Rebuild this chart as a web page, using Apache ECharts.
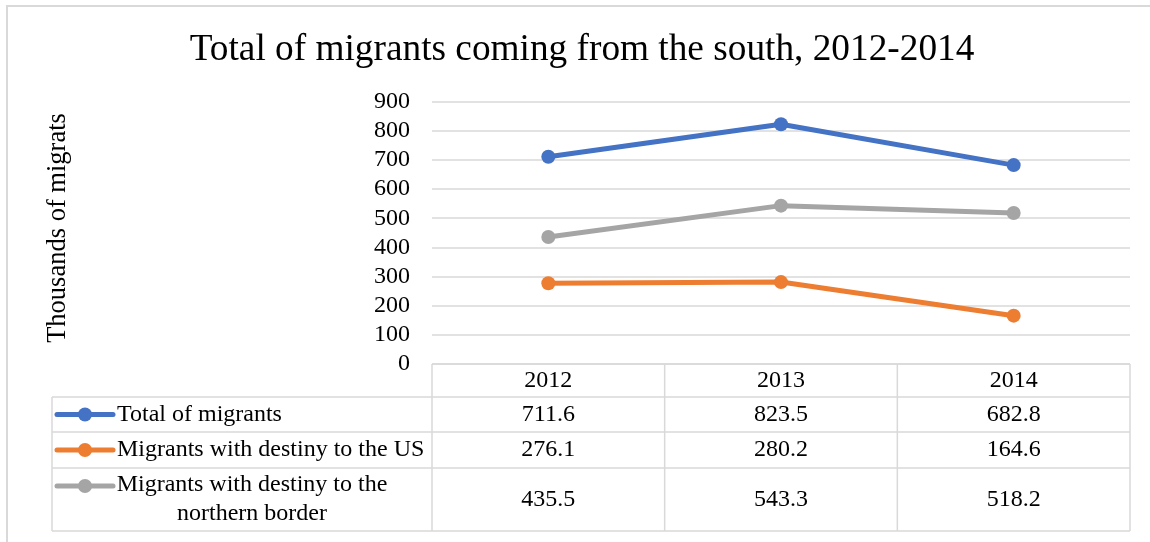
<!DOCTYPE html>
<html>
<head>
<meta charset="utf-8">
<script src="https://cdn.jsdelivr.net/npm/echarts@6/dist/echarts.min.js"></script>
<style>
  html, body { margin: 0; padding: 0; background: #fff; }
  #chart { width: 1150px; height: 542px; }
</style>
</head>
<body>
<div id="chart"></div>
<script>
// Data
const years = ['2012', '2013', '2014'];
const totalMigrants = [711.6, 823.5, 682.8];
const migrantsToUS = [276.1, 280.2, 164.6];
const migrantsToNorthernBorder = [435.5, 543.3, 518.2];
const seriesNames = [
  'Total of migrants',
  'Migrants with destiny to the US',
  'Migrants with destiny to the\nnorthern border'
];
const titleText = 'Total of migrants coming from the south, 2012-2014';
const yAxisTitle = 'Thousands of migrats';
const yMin = 0, yMax = 900, yStep = 100;

const seriesValues = [totalMigrants, migrantsToUS, migrantsToNorthernBorder];
const colors = ['#4472C4', '#ED7D31', '#A5A5A5'];
const FONT = '"Liberation Serif", "Times New Roman", serif';
const GRID_COLOR = '#D9D9D9';

const chart = echarts.init(document.getElementById('chart'), null, { renderer: 'canvas' });

const gridLeft = 432, gridRight = 1130, gridTop = 102, gridBottom = 363.5;

chart.setOption({
  animation: false,
  backgroundColor: '#fff',
  grid: { left: gridLeft, right: 1150 - gridRight, top: gridTop, bottom: 542 - gridBottom, containLabel: false },
  xAxis: {
    type: 'category',
    data: years,
    boundaryGap: true,
    axisLine: { show: false },
    axisTick: { show: false },
    axisLabel: { show: false },
    splitLine: { show: false }
  },
  yAxis: {
    type: 'value',
    min: yMin, max: yMax, interval: yStep,
    axisLine: { show: false },
    axisTick: { show: false },
    axisLabel: { color: '#000', fontFamily: FONT, fontSize: 24, margin: 22 },
    splitLine: { lineStyle: { color: GRID_COLOR, width: 1.5 } }
  },
  series: seriesValues.map((vals, i) => ({
    name: seriesNames[i],
    type: 'line',
    data: vals,
    symbol: 'circle',
    symbolSize: 14,
    lineStyle: { color: colors[i], width: 5 },
    itemStyle: { color: colors[i] },
    z: 3 - i
  }))
});

// Data table below the plot, aligned to the category axis
const tableLeft = 52;
const rowEdges = [364, 397, 432, 468, 531];
const lineStyle = { stroke: GRID_COLOR, lineWidth: 1.5 };
const textStyle = (extra) => Object.assign({ fill: '#000', font: '24px ' + FONT }, extra);

const centers = years.map(y => chart.convertToPixel({ xAxisIndex: 0 }, y));
const colW = (gridRight - gridLeft) / years.length;
const g = [];

// outer chart border
g.push({ type: 'rect', shape: { x: 7, y: 6, width: 1300, height: 700 },
  style: { fill: null, stroke: GRID_COLOR, lineWidth: 2 }, silent: true });

// title
g.push({ type: 'text', x: 582, y: 50, style: textStyle({ text: titleText, font: '37.3px ' + FONT,
  align: 'center', verticalAlign: 'middle' }) });

// y-axis title
g.push({ type: 'text', x: 58, y: 228, rotation: Math.PI / 2,
  style: textStyle({ text: yAxisTitle, font: '26.5px ' + FONT, align: 'center', verticalAlign: 'middle' }) });

// horizontal rules
g.push({ type: 'line', shape: { x1: gridLeft, y1: rowEdges[0], x2: gridRight, y2: rowEdges[0] }, style: lineStyle });
for (let r = 1; r < rowEdges.length; r++) {
  g.push({ type: 'line', shape: { x1: tableLeft, y1: rowEdges[r], x2: gridRight, y2: rowEdges[r] }, style: lineStyle });
}
// vertical rules
g.push({ type: 'line', shape: { x1: tableLeft, y1: rowEdges[1], x2: tableLeft, y2: rowEdges[4] }, style: lineStyle });
for (let c = 0; c <= years.length; c++) {
  const x = gridLeft + c * colW;
  g.push({ type: 'line', shape: { x1: x, y1: rowEdges[0], x2: x, y2: rowEdges[4] }, style: lineStyle });
}

// header row: categories
years.forEach((y, c) => {
  g.push({ type: 'text', x: centers[c], y: (rowEdges[0] + rowEdges[1]) / 2,
    style: textStyle({ text: y, align: 'center', verticalAlign: 'middle' }) });
});

// series rows: legend key, name, values
seriesValues.forEach((vals, i) => {
  const top = rowEdges[i + 1], bottom = rowEdges[i + 2];
  const mid = (top + bottom) / 2;
  const twoLine = seriesNames[i].indexOf('\n') >= 0;
  const keyY = twoLine ? top + 18 : mid;
  g.push({ type: 'line', shape: { x1: 57, y1: keyY, x2: 113, y2: keyY },
    style: { stroke: colors[i], lineWidth: 5, lineCap: 'round' } });
  g.push({ type: 'circle', shape: { cx: 85, cy: keyY, r: 7 }, style: { fill: colors[i] } });
  if (twoLine) {
    g.push({ type: 'text', x: 252, y: mid, style: textStyle({ text: seriesNames[i], align: 'center',
      verticalAlign: 'middle', lineHeight: 29 }) });
  } else {
    g.push({ type: 'text', x: 117, y: mid, style: textStyle({ text: seriesNames[i], align: 'left',
      verticalAlign: 'middle' }) });
  }
  vals.forEach((v, c) => {
    g.push({ type: 'text', x: centers[c], y: mid,
      style: textStyle({ text: v.toFixed(1), align: 'center', verticalAlign: 'middle' }) });
  });
});

chart.setOption({ graphic: { elements: g } });
</script>
</body>
</html>
